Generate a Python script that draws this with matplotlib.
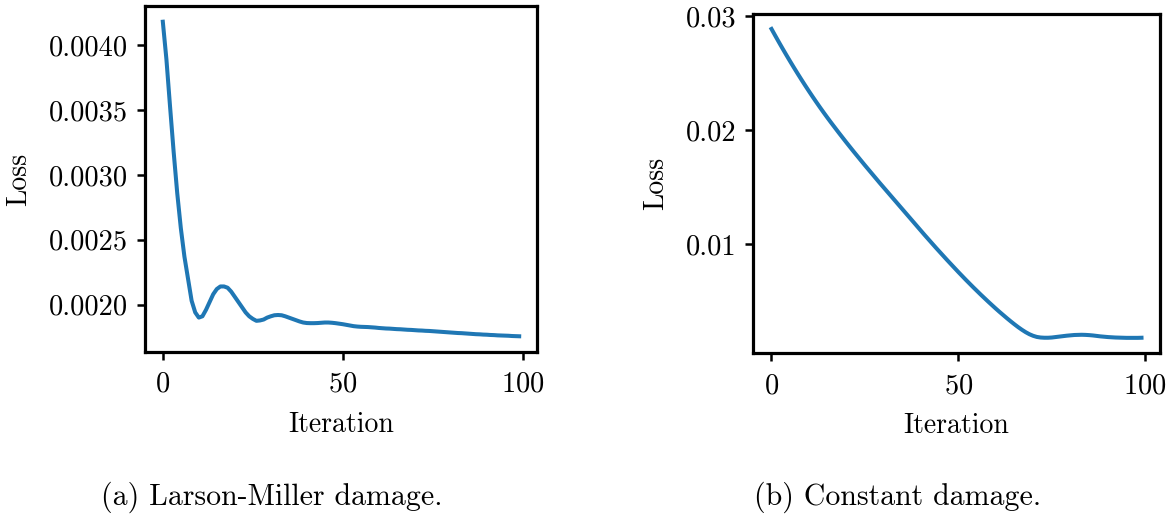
import matplotlib
matplotlib.use("Agg")
import matplotlib.pyplot as plt

plt.rcParams["font.family"] = ["cmr10", "DejaVu Serif"]
plt.rcParams["axes.formatter.use_mathtext"] = True
plt.rcParams["mathtext.fontset"] = "cm"

# Training loss per iteration, Larson-Miller damage model
iterations = list(range(100))
loss_larson_miller = [
    0.004180, 0.003890, 0.003530, 0.003180, 0.002860, 0.002590, 0.002370, 0.002200, 0.002030, 0.001940,
    0.001900, 0.001910, 0.001960, 0.002020, 0.002080, 0.002120, 0.002140, 0.002140, 0.002130, 0.002100,
    0.002060, 0.002020, 0.001980, 0.001940, 0.001910, 0.001890, 0.001875, 0.001878, 0.001885, 0.001900,
    0.001910, 0.001918, 0.001920, 0.001918, 0.001910, 0.001900, 0.001890, 0.001880, 0.001870, 0.001862,
    0.001858, 0.001857, 0.001857, 0.001858, 0.001860, 0.001862, 0.001862, 0.001860, 0.001857, 0.001853,
    0.001849, 0.001844, 0.001839, 0.001834, 0.001831, 0.001829, 0.001828, 0.001827, 0.001825, 0.001823,
    0.001820, 0.001818, 0.001816, 0.001815, 0.001813, 0.001811, 0.001810, 0.001808, 0.001806, 0.001805,
    0.001803, 0.001801, 0.001800, 0.001798, 0.001797, 0.001795, 0.001793, 0.001791, 0.001789, 0.001787,
    0.001785, 0.001783, 0.001781, 0.001780, 0.001778, 0.001776, 0.001774, 0.001772, 0.001771, 0.001769,
    0.001768, 0.001766, 0.001765, 0.001763, 0.001762, 0.001761, 0.001760, 0.001758, 0.001757, 0.001756,
]

# Training loss per iteration, constant damage model
loss_constant = [
    0.02887, 0.02828, 0.02770, 0.02713, 0.02657, 0.02602, 0.02548, 0.02495, 0.02443, 0.02392,
    0.02342, 0.02293, 0.02245, 0.02198, 0.02152, 0.02107, 0.02063, 0.02020, 0.01977, 0.01935,
    0.01893, 0.01852, 0.01811, 0.01771, 0.01731, 0.01691, 0.01652, 0.01613, 0.01574, 0.01535,
    0.01497, 0.01459, 0.01421, 0.01383, 0.01345, 0.01307, 0.01269, 0.01231, 0.01193, 0.01155,
    0.01117, 0.01079, 0.01042, 0.01005, 0.00968, 0.00932, 0.00896, 0.00860, 0.00825, 0.00790,
    0.00755, 0.00721, 0.00687, 0.00654, 0.00621, 0.00589, 0.00557, 0.00526, 0.00495, 0.00465,
    0.00435, 0.00406, 0.00378, 0.00350, 0.00323, 0.00297, 0.00272, 0.00249, 0.00228, 0.00210,
    0.00196, 0.00186, 0.00181, 0.00179, 0.00179, 0.00181, 0.00185, 0.00189, 0.00193, 0.00197,
    0.00200, 0.00203, 0.00204, 0.00205, 0.00204, 0.00202, 0.00199, 0.00195, 0.00191, 0.00188,
    0.00185, 0.00183, 0.00181, 0.00180, 0.00179, 0.00178, 0.00178, 0.00178, 0.00178, 0.00179,
]

x_ticks = [0, 50, 100]
ticks_larson_miller = [0.0020, 0.0025, 0.0030, 0.0035, 0.0040]
tick_labels_larson_miller = ["0.0020", "0.0025", "0.0030", "0.0035", "0.0040"]
ticks_constant = [0.01, 0.02, 0.03]
tick_labels_constant = ["0.01", "0.02", "0.03"]
captions = ["(a) Larson-Miller damage.", "(b) Constant damage."]

W, H = 1173, 516
fig = plt.figure(figsize=(W / 100, H / 100), dpi=100)

FS_TICK = 20.5
FS_LABEL = 20
LINE_COLOR = "#1f77b4"


def px_axes(left, top, right, bottom):
    return fig.add_axes([left / W, 1 - bottom / H, (right - left) / W, (bottom - top) / H])


def style(ax, yticks, ylabels):
    ax.set_xticks(x_ticks)
    ax.set_yticks(yticks)
    ax.set_yticklabels(ylabels)
    for s in ax.spines.values():
        s.set_linewidth(2.3)
    ax.tick_params(axis="both", labelsize=FS_TICK, length=6, width=1.8)
    ax.tick_params(axis="x", pad=8)
    ax.tick_params(axis="y", pad=6)
    ax.set_xlabel("Iteration", fontsize=FS_LABEL, labelpad=10)
    ax.set_ylabel("Loss", fontsize=FS_LABEL, labelpad=12)


ax1 = px_axes(145, 6, 537, 352)
ax1.plot(iterations, loss_larson_miller, color=LINE_COLOR, lw=2.9)
style(ax1, ticks_larson_miller, tick_labels_larson_miller)

ax2 = px_axes(753, 13.5, 1160, 353.3)
ax2.plot(iterations, loss_constant, color=LINE_COLOR, lw=2.9)
style(ax2, ticks_constant, tick_labels_constant)

fig.text(271.5 / W, 1 - 497 / H, captions[0], fontsize=21.5, ha="center", va="center")
fig.text(898 / W, 1 - 497 / H, captions[1], fontsize=21.5, ha="center", va="center")

fig.savefig("out.png", dpi=100)
